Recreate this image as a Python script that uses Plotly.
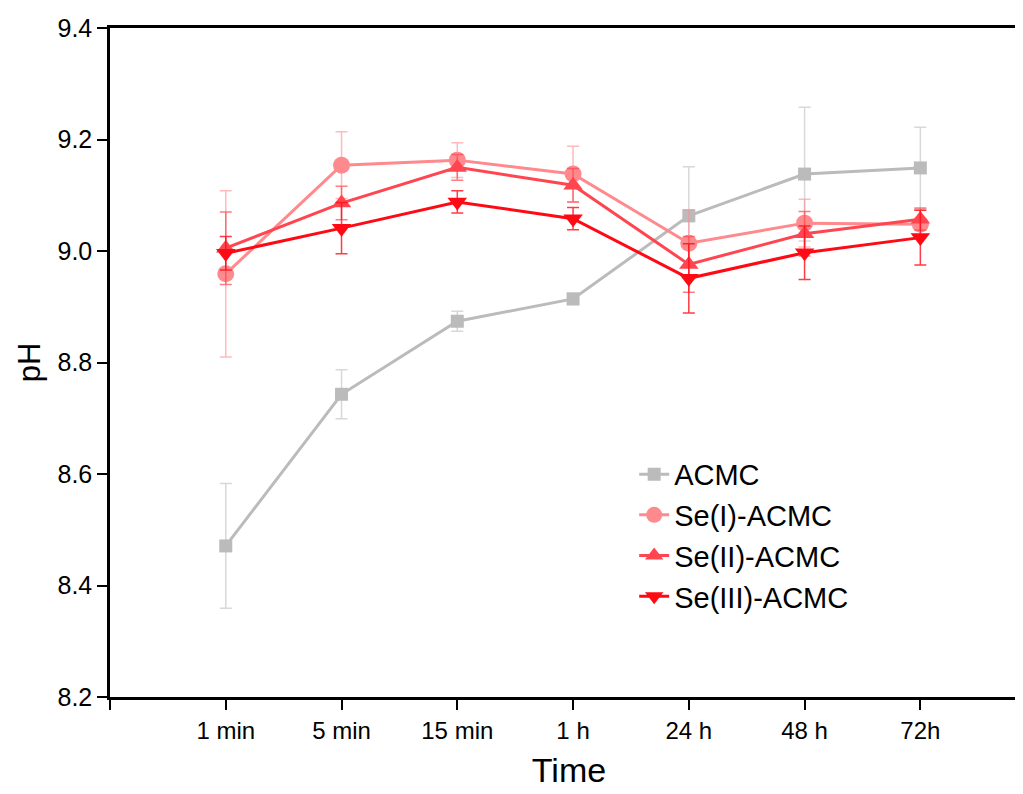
import plotly.graph_objects as go

categories = ["1 min", "5 min", "15 min", "1 h", "24 h", "48 h", "72h"]
series_names = ["ACMC", "Se(I)-ACMC", "Se(II)-ACMC", "Se(III)-ACMC"]

acmc = [8.471, 8.743, 8.874, 8.914, 9.063, 9.138, 9.149]
acmc_err = [0.112, 0.044, 0.018, 0.010, 0.088, 0.120, 0.073]

se1 = [8.959, 9.154, 9.163, 9.138, 9.014, 9.050, 9.048]
se1_err = [0.149, 0.060, 0.031, 0.050, 0.060, 0.043, 0.025]

se2 = [9.005, 9.086, 9.150, 9.118, 8.976, 9.031, 9.057]
se2_err = [0.065, 0.030, 0.023, 0.030, 0.050, 0.040, 0.020]

se3 = [8.996, 9.041, 9.088, 9.058, 8.951, 8.997, 9.024]
se3_err = [0.030, 0.046, 0.020, 0.020, 0.062, 0.048, 0.049]

colors = ["#BBBBBB", "#FF8A8E", "#FF4650", "#FF0A14"]
err_colors = ["rgba(190,190,190,0.6)", "rgba(255,140,145,0.6)", "rgba(255,70,80,0.7)", "rgba(255,10,20,0.8)"]
symbols = ["square", "circle", "triangle-up", "triangle-down"]
sizes = [13, 17, 17, 17]

xs = list(range(len(categories)))
arial = "Liberation Sans, Arial"

fig = go.Figure()
for i, (name, ys, es) in enumerate(zip(series_names, [acmc, se1, se2, se3], [acmc_err, se1_err, se2_err, se3_err])):
    fig.add_trace(go.Scatter(
        x=xs, y=ys, name=name, mode="lines+markers",
        line=dict(color=colors[i], width=3),
        marker=dict(symbol=symbols[i], size=sizes[i], color=colors[i]),
        error_y=dict(type="data", array=es, visible=True, color=err_colors[i], thickness=1.5, width=6),
    ))

fig.update_layout(
    width=1023, height=794,
    margin=dict(l=102, r=3, t=20, b=105),
    plot_bgcolor="white", paper_bgcolor="white",
    font=dict(family=arial, color="black"),
    legend=dict(x=0.571, y=0.371, xanchor="left", yanchor="top",
                font=dict(size=29, family=arial),
                bgcolor="rgba(0,0,0,0)"),
    showlegend=True,
)
fig.update_xaxes(
    range=[-1, 6.93], automargin=False,
    tickvals=[-1] + xs, ticktext=[""] + categories,
    tickfont=dict(size=24, family=arial),
    ticks="outside", ticklen=10, tickwidth=2, tickcolor="black",
    showline=True, linecolor="black", linewidth=2.5, mirror=True,
    showgrid=False, zeroline=False,
    title=dict(text="Time", font=dict(size=34, family=arial), standoff=16),
)
fig.update_yaxes(
    range=[8.2, 9.4], automargin=False,
    tickvals=[8.2, 8.4, 8.6, 8.8, 9.0, 9.2, 9.4],
    ticktext=["8.2", "8.4", "8.6", "8.8", "9.0", "9.2", "9.4"],
    tickfont=dict(size=25),
    ticks="outside", ticklen=10, tickwidth=2, tickcolor="black",
    showline=True, linecolor="black", linewidth=2.5,
    showgrid=False, zeroline=False,
    title=dict(text="pH", font=dict(size=31), standoff=8),
)

fig.write_html("out.html")
